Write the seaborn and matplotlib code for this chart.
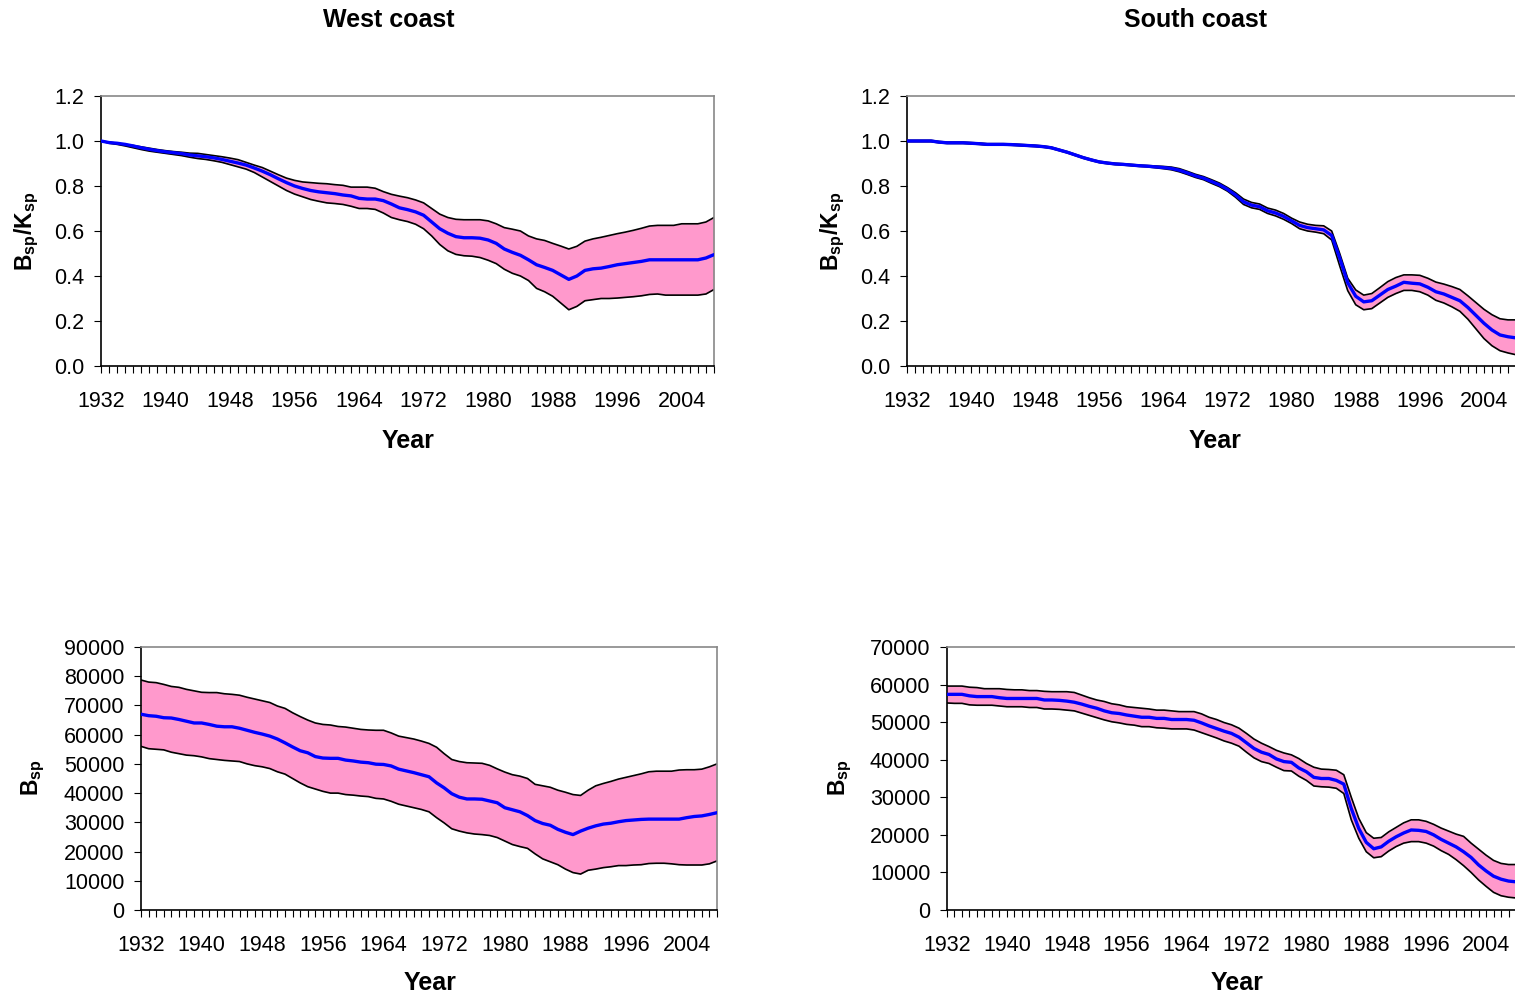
import numpy as np
import seaborn as sns
import matplotlib.pyplot as plt
from matplotlib.ticker import FuncFormatter

years = list(range(1932, 2009))

# West coast, spawning biomass relative to carrying capacity
west_rel_mid = [
    1.000, 0.993, 0.990, 0.985, 0.978, 0.970, 0.963, 0.957,
    0.952, 0.948, 0.944, 0.938, 0.934, 0.930, 0.925, 0.918, 0.910, 0.902,
    0.893, 0.880, 0.866, 0.850, 0.832, 0.815, 0.800, 0.789, 0.780, 0.774,
    0.770, 0.766, 0.760, 0.756, 0.745, 0.742, 0.742, 0.735, 0.720, 0.703,
    0.695, 0.685, 0.670, 0.640, 0.610, 0.590, 0.575, 0.570, 0.570, 0.568,
    0.560, 0.545, 0.520, 0.505, 0.492, 0.472, 0.450, 0.438, 0.425, 0.405,
    0.385, 0.400, 0.425, 0.432, 0.435, 0.442, 0.450, 0.455, 0.460, 0.465,
    0.472, 0.472, 0.472, 0.472, 0.472, 0.472, 0.472, 0.480, 0.495]
west_rel_hi = [
    1.000, 0.995, 0.990, 0.985, 0.980, 0.974, 0.968, 0.962,
    0.957, 0.953, 0.950, 0.946, 0.945, 0.940, 0.935, 0.930, 0.924, 0.917,
    0.905, 0.893, 0.882, 0.866, 0.850, 0.835, 0.825, 0.818, 0.815, 0.812,
    0.810, 0.806, 0.803, 0.795, 0.795, 0.795, 0.790, 0.775, 0.763, 0.755,
    0.748, 0.738, 0.725, 0.700, 0.675, 0.660, 0.652, 0.650, 0.650, 0.650,
    0.645, 0.632, 0.615, 0.608, 0.600, 0.578, 0.565, 0.558, 0.545, 0.533,
    0.520, 0.532, 0.555, 0.565, 0.572, 0.580, 0.588, 0.595, 0.603, 0.612,
    0.622, 0.625, 0.625, 0.625, 0.632, 0.632, 0.632, 0.640, 0.660]
west_rel_lo = [
    1.000, 0.990, 0.985, 0.978, 0.970, 0.962, 0.955, 0.950,
    0.945, 0.940, 0.935, 0.928, 0.922, 0.918, 0.912, 0.905, 0.895, 0.885,
    0.875, 0.860, 0.840, 0.820, 0.800, 0.780, 0.764, 0.752, 0.740, 0.732,
    0.725, 0.722, 0.718, 0.710, 0.700, 0.700, 0.696, 0.680, 0.660, 0.650,
    0.642, 0.630, 0.610, 0.578, 0.540, 0.512, 0.496, 0.490, 0.488, 0.482,
    0.470, 0.455, 0.430, 0.412, 0.400, 0.380, 0.345, 0.330, 0.310, 0.280,
    0.250, 0.265, 0.290, 0.295, 0.300, 0.300, 0.302, 0.305, 0.308, 0.312,
    0.318, 0.320, 0.315, 0.315, 0.315, 0.315, 0.315, 0.320, 0.340]

# South coast, spawning biomass relative to carrying capacity
south_rel_mid = [
    1.000, 1.000, 1.000, 1.000, 0.995, 0.992, 0.992, 0.992,
    0.990, 0.988, 0.985, 0.985, 0.985, 0.984, 0.982, 0.980, 0.978, 0.975,
    0.970, 0.960, 0.950, 0.938, 0.926, 0.916, 0.907, 0.902, 0.898, 0.896,
    0.893, 0.890, 0.888, 0.885, 0.882, 0.878, 0.870, 0.858, 0.845, 0.835,
    0.820, 0.805, 0.785, 0.760, 0.730, 0.715, 0.708, 0.690, 0.680, 0.665,
    0.645, 0.625, 0.615, 0.610, 0.605, 0.580, 0.480, 0.370, 0.310, 0.285,
    0.290, 0.315, 0.340, 0.355, 0.372, 0.368, 0.365, 0.350, 0.330, 0.320,
    0.305, 0.290, 0.260, 0.225, 0.190, 0.160, 0.138, 0.130, 0.125]
south_rel_hi = [
    1.003, 1.003, 1.003, 1.003, 0.998, 0.995, 0.995, 0.995,
    0.993, 0.991, 0.988, 0.988, 0.988, 0.987, 0.985, 0.983, 0.981, 0.978,
    0.973, 0.963, 0.953, 0.941, 0.929, 0.919, 0.910, 0.905, 0.901, 0.899,
    0.896, 0.893, 0.891, 0.889, 0.887, 0.884, 0.877, 0.865, 0.852, 0.842,
    0.828, 0.813, 0.793, 0.770, 0.742, 0.727, 0.720, 0.702, 0.693, 0.678,
    0.657, 0.640, 0.630, 0.625, 0.623, 0.600, 0.500, 0.390, 0.338, 0.315,
    0.322, 0.348, 0.375, 0.393, 0.405, 0.405, 0.403, 0.390, 0.373, 0.364,
    0.353, 0.340, 0.312, 0.282, 0.252, 0.228, 0.210, 0.205, 0.205]
south_rel_lo = [
    0.997, 0.997, 0.997, 0.997, 0.992, 0.989, 0.989, 0.989,
    0.987, 0.985, 0.982, 0.982, 0.982, 0.981, 0.979, 0.977, 0.975, 0.972,
    0.967, 0.957, 0.947, 0.935, 0.923, 0.913, 0.904, 0.899, 0.895, 0.893,
    0.890, 0.887, 0.885, 0.881, 0.877, 0.872, 0.863, 0.851, 0.838, 0.828,
    0.812, 0.797, 0.777, 0.750, 0.718, 0.703, 0.696, 0.678, 0.667, 0.652,
    0.633, 0.610, 0.600, 0.595, 0.588, 0.560, 0.445, 0.335, 0.272, 0.250,
    0.255, 0.280, 0.305, 0.322, 0.336, 0.336, 0.330, 0.315, 0.292, 0.280,
    0.263, 0.243, 0.208, 0.165, 0.122, 0.090, 0.068, 0.058, 0.050]

# West coast, spawning biomass
west_abs_mid = [
    67000, 66500, 66300, 65800, 65700, 65200, 64600, 64000,
    64000, 63500, 62900, 62700, 62700, 62200, 61500, 60800, 60200, 59500,
    58500, 57200, 55800, 54500, 53800, 52500, 52000, 51900, 51900, 51300,
    51000, 50600, 50400, 49900, 49800, 49300, 48200, 47600, 47000, 46300,
    45600, 43500, 41800, 39800, 38600, 38000, 38000, 37900, 37300, 36700,
    35000, 34300, 33600, 32300, 30600, 29600, 29000, 27600, 26600, 25800,
    27000, 28000, 28800, 29400, 29700, 30200, 30600, 30800, 31000, 31100,
    31100, 31100, 31100, 31100, 31600, 32000, 32200, 32700, 33300]
west_abs_hi = [
    78700, 78000, 77800, 77200, 76500, 76200, 75500, 75000,
    74500, 74400, 74400, 74000, 73800, 73500, 72800, 72200, 71600, 71000,
    69800, 69000, 67500, 66200, 65000, 64000, 63500, 63300, 62800, 62600,
    62200, 61800, 61600, 61500, 61500, 60600, 59500, 59000, 58500, 57800,
    57000, 55700, 53500, 51500, 50800, 50400, 50300, 50200, 49500, 48300,
    47200, 46300, 45800, 45000, 43000, 42500, 42000, 41000, 40300, 39500,
    39200, 41000, 42500, 43300, 44000, 44800, 45400, 46000, 46600, 47300,
    47500, 47500, 47500, 47900, 48000, 48000, 48200, 49000, 50000]
west_abs_lo = [
    56000, 55200, 55000, 54800, 54000, 53500, 53000, 52800,
    52400, 51800, 51500, 51200, 51000, 50800, 50000, 49400, 49000, 48400,
    47300, 46500, 45000, 43500, 42200, 41400, 40600, 40000, 40000, 39500,
    39300, 39000, 38800, 38200, 38000, 37200, 36200, 35600, 35000, 34400,
    33600, 31600, 29800, 27800, 27000, 26400, 26000, 25800, 25500, 24800,
    23600, 22400, 21700, 21100, 19200, 17500, 16500, 15500, 14000, 12800,
    12300, 13600, 14000, 14500, 14800, 15200, 15200, 15400, 15500, 15900,
    16000, 16000, 15800, 15500, 15400, 15400, 15400, 15800, 16800]

# South coast, spawning biomass
south_abs_mid = [
    57400, 57400, 57400, 57000, 56800, 56800, 56800, 56500,
    56300, 56300, 56300, 56300, 56300, 55900, 55900, 55800, 55600, 55300,
    54800, 54200, 53700, 53000, 52500, 52300, 51900, 51600, 51300, 51300,
    51000, 51000, 50700, 50700, 50700, 50500, 49800, 49000, 48300, 47600,
    47000, 46000, 44500, 43000, 42000, 41400, 40200, 39500, 39300, 37800,
    36800, 35300, 35000, 35000, 34500, 33500, 27000, 21700, 18000, 16300,
    16800, 18300, 19500, 20500, 21300, 21200, 20900, 20000, 18800, 17800,
    16800, 15500, 14000, 12000, 10400, 9000, 8200, 7700, 7500]
south_abs_hi = [
    59600, 59600, 59600, 59300, 59200, 58900, 58900, 58900,
    58700, 58600, 58600, 58400, 58400, 58200, 58100, 58100, 58100, 57900,
    57200, 56500, 55900, 55500, 54900, 54600, 54100, 53900, 53700, 53500,
    53200, 53200, 53000, 52800, 52800, 52800, 52200, 51300, 50700, 49900,
    49300, 48400, 47000, 45500, 44400, 43500, 42500, 41800, 41300, 40300,
    39000, 38000, 37500, 37400, 37200, 36000, 30000, 24400, 20600, 19100,
    19300, 20800, 22000, 23200, 24000, 24000, 23600, 22800, 21800, 21000,
    20200, 19600, 17800, 16200, 14600, 13200, 12400, 12100, 12100]
south_abs_lo = [
    55100, 55000, 55000, 54600, 54500, 54500, 54500, 54300,
    54100, 54100, 54100, 53900, 53900, 53500, 53500, 53400, 53200, 53000,
    52400, 51800, 51200, 50600, 50100, 49800, 49400, 49200, 48800, 48800,
    48500, 48400, 48200, 48200, 48200, 47900, 47200, 46500, 45800, 45000,
    44400, 43600, 42000, 40500, 39500, 39000, 38000, 37100, 37000, 35600,
    34500, 33000, 32800, 32700, 32400, 31000, 24000, 19100, 15500, 13900,
    14200, 15700, 16900, 17800, 18200, 18200, 17800, 17000, 15800, 14800,
    13400, 11800, 10000, 8000, 6300, 4700, 3800, 3400, 3200]

label_years = list(range(1932, 2009, 8))

sns.set_style('white')
plt.rcParams['font.family'] = ['Liberation Sans', 'DejaVu Sans']
plt.rcParams['mathtext.fontset'] = 'custom'
plt.rcParams['mathtext.rm'] = 'Liberation Sans'
plt.rcParams['mathtext.bf'] = 'Liberation Sans:bold'
plt.rcParams['text.color'] = 'black'
plt.rcParams['xtick.color'] = 'black'
plt.rcParams['ytick.color'] = 'black'
plt.rcParams['xtick.labelcolor'] = 'black'
plt.rcParams['ytick.labelcolor'] = 'black'

W, H = 1515, 997
fig = plt.figure(figsize=(W / 100, H / 100), dpi=100)


def px_axes(left, top, right, bottom):
    return fig.add_axes([left / W, 1 - bottom / H, (right - left) / W, (bottom - top) / H])


def panel(ax, lo, mid, hi, ymax, ystep, fmt):
    ax.fill_between(years, lo, hi, color='#ff99cc', linewidth=0, zorder=1)
    sns.lineplot(x=years, y=hi, ax=ax, color='black', linewidth=1.2, zorder=2)
    sns.lineplot(x=years, y=lo, ax=ax, color='black', linewidth=1.2, zorder=2)
    sns.lineplot(x=years, y=mid, ax=ax, color='#0000ff', linewidth=2.4, zorder=3)
    ax.set_xlim(1932, 2008)
    ax.set_ylim(0, ymax)
    ax.set_yticks(np.arange(0, ymax + ystep / 2, ystep))
    ax.yaxis.set_major_formatter(FuncFormatter(fmt))
    ax.set_xticks(years)
    ax.set_xticklabels([str(y) if y in label_years else '' for y in years])
    ax.tick_params(axis='x', direction='out', length=5, width=0.8, color='black',
                   labelcolor='black', labelsize=15.5, pad=13, bottom=True)
    ax.tick_params(axis='y', direction='out', length=5, width=0.8, color='black',
                   labelcolor='black', labelsize=15.5, pad=7, left=True)
    ax.set_xlabel('')
    ax.set_ylabel('')
    for side in ['left', 'bottom']:
        ax.spines[side].set_color('black')
        ax.spines[side].set_linewidth(1.2)
    for side in ['top', 'right']:
        ax.spines[side].set_color('#888888')
        ax.spines[side].set_linewidth(1.2)
    ax.grid(False)


rel_fmt = lambda v, p: f'{v:.1f}'
abs_fmt = lambda v, p: f'{int(round(v))}'

ax1 = px_axes(101, 96, 714, 366)
panel(ax1, west_rel_lo, west_rel_mid, west_rel_hi, 1.2, 0.2, rel_fmt)
ax2 = px_axes(907, 96, 1516, 366)
panel(ax2, south_rel_lo, south_rel_mid, south_rel_hi, 1.2, 0.2, rel_fmt)
ax3 = px_axes(141, 647, 717, 910)
panel(ax3, west_abs_lo, west_abs_mid, west_abs_hi, 90000, 10000, abs_fmt)
ax4 = px_axes(947, 647, 1516, 910)
panel(ax4, south_abs_lo, south_abs_mid, south_abs_hi, 70000, 10000, abs_fmt)


def ftext(x, y, s, size=18, **kw):
    fig.text(x / W, 1 - y / H, s, ha='center', va='center', fontsize=size,
             fontweight='bold', color='black', **kw)


ftext(389, 20, 'West coast')
ftext(1195, 20, 'South coast')
ftext(408, 441, 'Year')
ftext(1215, 441, 'Year')
ftext(430, 983, 'Year')
ftext(1237, 983, 'Year')
ftext(27, 231, r'$\mathbf{B_{sp}/K_{sp}}$', size=16.5, rotation=90)
ftext(833, 231, r'$\mathbf{B_{sp}/K_{sp}}$', size=16.5, rotation=90)
ftext(33, 778, r'$\mathbf{B_{sp}}$', size=16.5, rotation=90)
ftext(840, 778, r'$\mathbf{B_{sp}}$', size=16.5, rotation=90)

fig.savefig('out.png', dpi=100)
